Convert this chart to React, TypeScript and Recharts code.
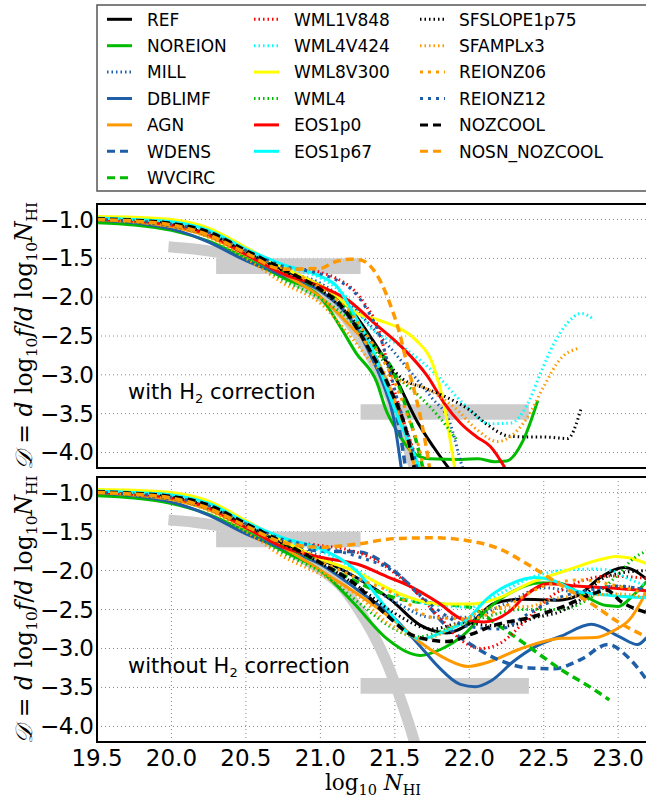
import React from "react";
import { LineChart, Line, XAxis, YAxis, CartesianGrid, ReferenceArea } from "recharts";

type Pt = [number, number];

const X_TICKS = [19.5, 20.0, 20.5, 21.0, 21.5, 22.0, 22.5, 23.0];
const Y_TICKS = [-4.0, -3.5, -3.0, -2.5, -2.0, -1.5, -1.0];
const EARLY_X = [19.5, 19.75, 20.0, 20.25, 20.5, 20.75];

// observational constraints (grey)
const OBS_CURVE: Pt[] = [[19.98, -1.35], [20.15, -1.38], [20.3, -1.42], [20.5, -1.5], [20.7, -1.64], [20.85, -1.8], [21.0, -1.98], [21.15, -2.22], [21.25, -2.48], [21.35, -2.8], [21.45, -3.2], [21.52, -3.55], [21.6, -4.0], [21.67, -4.45]];
const OBS_BOX_LOW = { x: [20.3, 21.27], y: [-1.7, -1.5] };
const OBS_BOX_HIGH = { x: [21.27, 22.4], y: [-3.58, -3.38] };

// low column density part, shared by both panels
const REF_EARLY = [-1.0, -1.02, -1.07, -1.19, -1.42, -1.65];
const NOREION_EARLY = [-1.04, -1.07, -1.14, -1.28, -1.5, -1.75];
const MILL_EARLY = [-1.0, -1.02, -1.07, -1.19, -1.42, -1.66];
const DBLIMF_EARLY = [-1.01, -1.04, -1.12, -1.29, -1.53, -1.72];
const AGN_EARLY = [-1.0, -1.03, -1.09, -1.22, -1.45, -1.7];
const WDENS_EARLY = [-1.0, -1.03, -1.08, -1.2, -1.42, -1.63];
const WVCIRC_EARLY = [-1.0, -1.02, -1.07, -1.2, -1.44, -1.68];
const WML1V848_EARLY = [-1.0, -1.02, -1.06, -1.17, -1.4, -1.6];
const WML4V424_EARLY = [-0.99, -1.01, -1.05, -1.16, -1.4, -1.62];
const WML8V300_EARLY = [-0.96, -0.97, -1.0, -1.11, -1.36, -1.62];
const WML4_EARLY = [-1.0, -1.03, -1.08, -1.22, -1.48, -1.78];
const EOS1P0_EARLY = [-1.0, -1.02, -1.07, -1.2, -1.45, -1.7];
const EOS1P67_EARLY = [-0.98, -1.0, -1.03, -1.14, -1.38, -1.58];
const SFSLOPE_EARLY = [-1.0, -1.02, -1.06, -1.18, -1.42, -1.66];
const SFAMPL_EARLY = [-1.0, -1.03, -1.09, -1.23, -1.5, -1.82];
const REIONZ06_EARLY = [-1.0, -1.02, -1.06, -1.18, -1.41, -1.63];
const REIONZ12_EARLY = [-1.0, -1.02, -1.06, -1.17, -1.4, -1.6];
const NOZCOOL_EARLY = [-0.99, -1.01, -1.05, -1.16, -1.4, -1.64];
const NOSN_EARLY = [-1.0, -1.02, -1.07, -1.2, -1.43, -1.64];

// with H2 correction
const REF_TOP: Pt[] = [[21.0, -1.85], [21.2, -2.15], [21.35, -2.55], [21.5, -3.02], [21.65, -3.6], [21.76, -3.93], [21.9, -4.3]];
const NOREION_TOP: Pt[] = [[21.0, -2.0], [21.13, -2.37], [21.24, -2.72], [21.38, -3.1], [21.44, -3.45], [21.51, -3.71], [21.62, -4.0], [21.73, -4.08], [21.95, -4.09], [22.06, -4.08], [22.17, -4.12], [22.25, -4.11], [22.36, -3.85], [22.46, -3.33]];
const MILL_TOP: Pt[] = [[21.0, -1.82], [21.2, -2.1], [21.4, -2.5], [21.6, -2.95], [21.75, -3.3], [21.87, -3.62], [21.94, -4.1], [21.97, -4.3]];
const DBLIMF_TOP: Pt[] = [[21.0, -1.92], [21.22, -2.33], [21.34, -2.76], [21.42, -3.11], [21.49, -3.54], [21.55, -4.3]];
const AGN_TOP: Pt[] = [[21.0, -2.0], [21.18, -2.33], [21.34, -2.68], [21.45, -3.1], [21.56, -3.7], [21.65, -4.3]];
const WDENS_TOP: Pt[] = [[21.0, -1.9], [21.2, -2.25], [21.35, -2.7], [21.45, -3.15], [21.52, -3.6], [21.58, -4.3]];
const WVCIRC_TOP: Pt[] = [[21.0, -1.9], [21.2, -2.2], [21.35, -2.6], [21.5, -3.0], [21.58, -3.45], [21.65, -3.9], [21.7, -4.3]];
const WML1V848_TOP: Pt[] = [[21.0, -1.68], [21.11, -1.76], [21.22, -1.9], [21.31, -2.12], [21.4, -2.46], [21.45, -2.85], [21.49, -3.15], [21.56, -3.6], [21.63, -4.0], [21.68, -4.3]];
const WML4V424_TOP: Pt[] = [[21.0, -1.75], [21.2, -2.05], [21.34, -2.4], [21.56, -2.65], [21.79, -3.02], [21.96, -3.37], [22.14, -3.63], [22.28, -3.62], [22.39, -3.38], [22.48, -2.97], [22.57, -2.59], [22.66, -2.33], [22.75, -2.21], [22.84, -2.29]];
const WML8V300_TOP: Pt[] = [[21.0, -1.85], [21.1, -1.97], [21.24, -2.2], [21.4, -2.3], [21.52, -2.39], [21.64, -2.55], [21.76, -2.89], [21.83, -3.38], [21.89, -4.06], [21.91, -4.3]];
const WML4_TOP: Pt[] = [[21.0, -2.02], [21.2, -2.3], [21.35, -2.65], [21.5, -3.0], [21.65, -3.25], [21.8, -3.55], [21.92, -3.85]];
const EOS1P0_TOP: Pt[] = [[21.0, -1.86], [21.18, -2.03], [21.36, -2.33], [21.54, -2.63], [21.72, -3.02], [21.83, -3.36], [21.94, -3.62], [22.05, -3.8], [22.14, -3.92], [22.27, -4.3]];
const EOS1P67_TOP: Pt[] = [[21.0, -1.73], [21.11, -1.86], [21.22, -2.2], [21.34, -2.63], [21.45, -3.19], [21.54, -3.64], [21.63, -4.02], [21.68, -4.3]];
const SFSLOPE_TOP: Pt[] = [[21.0, -1.9], [21.2, -2.25], [21.4, -2.72], [21.55, -3.05], [21.7, -3.17], [21.86, -3.3], [22.0, -3.45], [22.12, -3.64], [22.27, -3.79], [22.4, -3.8], [22.5, -3.8], [22.66, -3.82], [22.75, -3.44]];
const SFAMPL_TOP: Pt[] = [[21.0, -2.08], [21.2, -2.5], [21.35, -2.85], [21.5, -3.05], [21.7, -3.17], [21.9, -3.42], [22.06, -3.72], [22.19, -3.86], [22.28, -3.79], [22.39, -3.55], [22.5, -3.15], [22.61, -2.8], [22.73, -2.66]];
const REIONZ06_TOP: Pt[] = [[21.0, -1.88], [21.2, -2.2], [21.35, -2.6], [21.5, -3.1], [21.6, -3.6], [21.67, -4.0], [21.7, -4.3]];
const REIONZ12_TOP: Pt[] = [[21.0, -1.7], [21.11, -1.78], [21.22, -1.92], [21.31, -2.15], [21.4, -2.5], [21.46, -2.9], [21.5, -3.2], [21.56, -3.6], [21.62, -3.98], [21.66, -4.3]];
const NOZCOOL_TOP: Pt[] = [[21.0, -1.9], [21.13, -2.09], [21.33, -2.68], [21.47, -3.19], [21.58, -3.75], [21.64, -4.3]];
const NOSN_TOP: Pt[] = [[21.0, -1.63], [21.09, -1.55], [21.2, -1.51], [21.27, -1.52], [21.34, -1.61], [21.41, -1.82], [21.47, -2.1], [21.53, -2.45], [21.58, -2.85], [21.63, -3.2], [21.68, -3.62], [21.72, -4.04], [21.74, -4.3]];

// without H2 correction
const REF_BOTTOM: Pt[] = [[21.0, -1.85], [21.25, -2.1], [21.47, -2.37], [21.67, -2.7], [21.85, -2.8], [22.01, -2.67], [22.17, -2.42], [22.35, -2.37], [22.6, -2.38], [22.73, -2.32], [22.88, -2.09], [23.04, -1.96], [23.19, -2.11]];
const NOREION_BOTTOM: Pt[] = [[21.0, -2.0], [21.22, -2.41], [21.45, -2.88], [21.6, -3.06], [21.67, -3.09], [21.81, -3.01], [21.96, -2.83], [22.12, -2.5], [22.3, -2.26], [22.46, -2.16], [22.6, -2.16], [22.75, -2.3], [22.92, -2.45], [23.0, -2.46], [23.1, -2.32], [23.19, -2.14]];
const MILL_BOTTOM: Pt[] = [[21.0, -1.82], [21.25, -2.1], [21.5, -2.4], [21.75, -2.6], [22.0, -2.6], [22.25, -2.42], [22.5, -2.22], [22.75, -2.28], [23.0, -2.2], [23.19, -2.25]];
const DBLIMF_BOTTOM: Pt[] = [[21.0, -1.92], [21.25, -2.25], [21.5, -2.62], [21.67, -2.97], [21.79, -3.23], [21.94, -3.46], [22.04, -3.49], [22.15, -3.41], [22.3, -3.16], [22.45, -2.97], [22.62, -2.84], [22.82, -2.69], [23.01, -2.85], [23.13, -2.95], [23.19, -2.86]];
const AGN_BOTTOM: Pt[] = [[21.0, -2.0], [21.25, -2.3], [21.5, -2.65], [21.67, -2.92], [21.85, -3.14], [21.99, -3.23], [22.12, -3.18], [22.35, -3.0], [22.62, -2.87], [22.85, -2.86], [22.97, -2.77], [23.08, -2.62], [23.19, -2.27]];
const WDENS_BOTTOM: Pt[] = [[21.0, -1.75], [21.25, -1.76], [21.48, -1.98], [21.67, -2.33], [21.85, -2.72], [22.01, -2.95], [22.19, -3.14], [22.4, -3.25], [22.57, -3.26], [22.75, -3.14], [22.93, -2.95], [23.07, -3.12], [23.19, -3.4]];
const WVCIRC_BOTTOM: Pt[] = [[21.0, -1.9], [21.25, -2.15], [21.5, -2.35], [21.8, -2.43], [22.0, -2.47], [22.17, -2.67], [22.38, -2.95], [22.6, -3.25], [22.84, -3.53], [22.94, -3.66]];
const WML1V848_BOTTOM: Pt[] = [[21.0, -1.68], [21.18, -1.73], [21.4, -1.9], [21.6, -2.2], [21.81, -2.62], [21.95, -2.9], [22.08, -3.0], [22.21, -2.93], [22.37, -2.66], [22.55, -2.33], [22.72, -2.16], [22.93, -2.07], [23.19, -2.1]];
const WML4V424_BOTTOM: Pt[] = [[21.0, -1.75], [21.25, -2.0], [21.5, -2.3], [21.8, -2.45], [22.0, -2.47], [22.2, -2.3], [22.39, -2.11], [22.62, -2.0], [22.84, -1.98], [22.95, -2.0], [23.06, -2.1], [23.19, -2.19]];
const WML8V300_BOTTOM: Pt[] = [[21.0, -1.85], [21.22, -2.0], [21.56, -2.32], [21.79, -2.43], [22.01, -2.43], [22.2, -2.35], [22.42, -2.15], [22.65, -2.0], [22.9, -1.85], [22.98, -1.82], [23.08, -1.84], [23.19, -1.91]];
const WML4_BOTTOM: Pt[] = [[21.0, -2.02], [21.25, -2.4], [21.47, -2.72], [21.65, -2.85], [21.85, -2.75], [22.1, -2.6], [22.35, -2.5], [22.6, -2.5], [22.85, -2.3], [23.0, -2.05], [23.1, -1.85], [23.19, -1.75]];
const EOS1P0_BOTTOM: Pt[] = [[21.0, -1.83], [21.25, -1.92], [21.45, -2.08], [21.6, -2.2], [21.79, -2.41], [21.96, -2.63], [22.1, -2.66], [22.26, -2.54], [22.39, -2.3], [22.53, -2.17], [22.72, -2.2], [22.93, -2.22], [23.19, -2.26]];
const EOS1P67_BOTTOM: Pt[] = [[21.0, -1.72], [21.25, -2.02], [21.45, -2.5], [21.58, -2.79], [21.67, -2.88], [21.81, -2.8], [21.99, -2.62], [22.12, -2.36], [22.28, -2.17], [22.44, -2.09], [22.55, -2.12], [22.73, -2.27], [22.95, -2.32], [23.19, -2.35]];
const SFSLOPE_BOTTOM: Pt[] = [[21.0, -1.9], [21.25, -2.2], [21.5, -2.55], [21.75, -2.75], [21.96, -2.67], [22.1, -2.7], [22.25, -2.71], [22.45, -2.6], [22.62, -2.52], [22.73, -2.4], [22.89, -2.11], [23.02, -2.03], [23.19, -2.0]];
const SFAMPL_BOTTOM: Pt[] = [[21.0, -2.05], [21.25, -2.32], [21.47, -2.7], [21.7, -2.88], [21.95, -2.65], [22.15, -2.48], [22.4, -2.46], [22.6, -2.35], [22.8, -2.32], [23.0, -2.3], [23.19, -2.35]];
const REIONZ06_BOTTOM: Pt[] = [[21.0, -1.88], [21.25, -2.1], [21.5, -2.3], [21.75, -2.6], [22.0, -2.62], [22.25, -2.45], [22.5, -2.2], [22.75, -2.12], [23.0, -2.2], [23.19, -2.3]];
const REIONZ12_BOTTOM: Pt[] = [[21.0, -1.7], [21.25, -1.82], [21.5, -2.02], [21.75, -2.45], [22.0, -2.72], [22.2, -2.75], [22.4, -2.55], [22.6, -2.35], [22.8, -2.25], [23.0, -2.2], [23.19, -2.25]];
const NOZCOOL_BOTTOM: Pt[] = [[21.0, -1.9], [21.25, -2.2], [21.45, -2.58], [21.63, -2.84], [21.85, -2.91], [22.01, -2.82], [22.17, -2.7], [22.39, -2.61], [22.62, -2.47], [22.84, -2.29], [22.92, -2.25], [23.02, -2.4], [23.19, -2.54]];
const NOSN_BOTTOM: Pt[] = [[21.0, -1.7], [21.25, -1.66], [21.5, -1.59], [21.75, -1.58], [22.0, -1.62], [22.2, -1.72], [22.4, -1.93], [22.6, -2.17], [22.84, -2.45], [23.0, -2.66], [23.19, -2.85]];

const BLACK = "#000000";
const GREEN = "#00bb00";
const BLUE = "#1f5fa8";
const ORANGE = "#ff9900";
const RED = "#ff0000";
const CYAN = "#00ffff";
const YELLOW = "#ffff00";
const GREY = "#cccccc";

const SOLID = undefined;
const DOT = "1.5 3";
const DASH = "8 5";
const DASHDOT = "3 5";

const SERIES = [
  { name: "REF", color: BLACK, dash: SOLID, early: REF_EARLY, top: REF_TOP, bottom: REF_BOTTOM },
  { name: "NOREION", color: GREEN, dash: SOLID, early: NOREION_EARLY, top: NOREION_TOP, bottom: NOREION_BOTTOM },
  { name: "MILL", color: BLUE, dash: DOT, early: MILL_EARLY, top: MILL_TOP, bottom: MILL_BOTTOM },
  { name: "DBLIMF", color: BLUE, dash: SOLID, early: DBLIMF_EARLY, top: DBLIMF_TOP, bottom: DBLIMF_BOTTOM },
  { name: "AGN", color: ORANGE, dash: SOLID, early: AGN_EARLY, top: AGN_TOP, bottom: AGN_BOTTOM },
  { name: "WDENS", color: BLUE, dash: DASH, early: WDENS_EARLY, top: WDENS_TOP, bottom: WDENS_BOTTOM },
  { name: "WVCIRC", color: GREEN, dash: DASH, early: WVCIRC_EARLY, top: WVCIRC_TOP, bottom: WVCIRC_BOTTOM },
  { name: "WML1V848", color: RED, dash: DOT, early: WML1V848_EARLY, top: WML1V848_TOP, bottom: WML1V848_BOTTOM },
  { name: "WML4V424", color: CYAN, dash: DOT, early: WML4V424_EARLY, top: WML4V424_TOP, bottom: WML4V424_BOTTOM },
  { name: "WML8V300", color: YELLOW, dash: SOLID, early: WML8V300_EARLY, top: WML8V300_TOP, bottom: WML8V300_BOTTOM },
  { name: "WML4", color: GREEN, dash: DOT, early: WML4_EARLY, top: WML4_TOP, bottom: WML4_BOTTOM },
  { name: "EOS1p0", color: RED, dash: SOLID, early: EOS1P0_EARLY, top: EOS1P0_TOP, bottom: EOS1P0_BOTTOM },
  { name: "EOS1p67", color: CYAN, dash: SOLID, early: EOS1P67_EARLY, top: EOS1P67_TOP, bottom: EOS1P67_BOTTOM },
  { name: "SFSLOPE1p75", color: BLACK, dash: DOT, early: SFSLOPE_EARLY, top: SFSLOPE_TOP, bottom: SFSLOPE_BOTTOM },
  { name: "SFAMPLx3", color: ORANGE, dash: DOT, early: SFAMPL_EARLY, top: SFAMPL_TOP, bottom: SFAMPL_BOTTOM },
  { name: "REIONZ06", color: ORANGE, dash: DASHDOT, early: REIONZ06_EARLY, top: REIONZ06_TOP, bottom: REIONZ06_BOTTOM },
  { name: "REIONZ12", color: BLUE, dash: DASHDOT, early: REIONZ12_EARLY, top: REIONZ12_TOP, bottom: REIONZ12_BOTTOM },
  { name: "NOZCOOL", color: BLACK, dash: DASH, early: NOZCOOL_EARLY, top: NOZCOOL_TOP, bottom: NOZCOOL_BOTTOM },
  { name: "NOSN_NOZCOOL", color: ORANGE, dash: DASH, early: NOSN_EARLY, top: NOSN_TOP, bottom: NOSN_BOTTOM },
];

const LEGEND_COLS = [0, 7, 13, 19];

const PLOT_LEFT = 97;
const PLOT_W = 551;
const TOP_Y = 204;
const TOP_H = 264;
const BOT_Y = 477;
const BOT_H = 265;
const FONT = "DejaVu Sans";
const MATH = "DejaVu Serif";
const TICK_FONT = 23;

function toPoints(early: number[], tail: Pt[]) {
  const pts = EARLY_X.map((x, i) => ({ x, y: early[i] }));
  return pts.concat(tail.map(([x, y]) => ({ x, y })));
}

const fmtY = (v: number) => (v < 0 ? "\u2212" : "") + Math.abs(v).toFixed(1);

function YTick(props: any) {
  const { x, y, payload } = props;
  return (
    <text x={x} y={y} dy={8} textAnchor="end" fontSize={TICK_FONT} fontFamily={FONT} fill="#000" textLength={54} lengthAdjust="spacing">
      {fmtY(payload.value)}
    </text>
  );
}

function XTick(props: any) {
  const { x, y, payload } = props;
  return (
    <text x={x} y={y} dy={16} textAnchor="middle" fontSize={TICK_FONT} fontFamily={FONT} fill="#000">
      {payload.value.toFixed(1)}
    </text>
  );
}

function Panel({ which, height, showX }: { which: "top" | "bottom"; height: number; showX: boolean }) {
  const xh = showX ? 40 : 0;
  return (
    <LineChart width={PLOT_LEFT + PLOT_W} height={height + xh} margin={{ top: 0, right: 0, bottom: 0, left: 0 }}>
      <CartesianGrid
        stroke="#888"
        strokeDasharray="1 3"
        horizontalValues={Y_TICKS}
        verticalValues={X_TICKS.slice(1)}
      />
      <XAxis
        dataKey="x"
        type="number"
        domain={[19.5, 23.2]}
        allowDataOverflow
        ticks={X_TICKS}
        interval={0}
        height={xh}
        axisLine={false}
        tickLine={false}
        tickSize={6}
        tickMargin={2}
        tick={showX ? <XTick /> : false}
      />
      <YAxis
        type="number"
        domain={[-4.2, -0.8]}
        allowDataOverflow
        ticks={Y_TICKS}
        interval={0}
        width={PLOT_LEFT}
        axisLine={false}
        tickLine={false}
        tickSize={3}
        tickMargin={0}
        tick={<YTick />}
      />
      <ReferenceArea x1={OBS_BOX_LOW.x[0]} x2={OBS_BOX_LOW.x[1]} y1={OBS_BOX_LOW.y[0]} y2={OBS_BOX_LOW.y[1]} fill={GREY} fillOpacity={1} stroke="none" />
      <ReferenceArea x1={OBS_BOX_HIGH.x[0]} x2={OBS_BOX_HIGH.x[1]} y1={OBS_BOX_HIGH.y[0]} y2={OBS_BOX_HIGH.y[1]} fill={GREY} fillOpacity={1} stroke="none" />
      <Line
        data={OBS_CURVE.map(([x, y]) => ({ x, y }))}
        dataKey="y"
        type="monotone"
        stroke={GREY}
        strokeWidth={11}
        dot={false}
        isAnimationActive={false}
      />
      {SERIES.map((s) => (
        <Line
          key={s.name}
          data={toPoints(s.early, which === "top" ? s.top : s.bottom)}
          dataKey="y"
          type="monotone"
          stroke={s.color}
          strokeWidth={s.dash === DASH ? 3.5 : 3}
          strokeDasharray={s.dash}
          dot={false}
          isAnimationActive={false}
        />
      ))}
    </LineChart>
  );
}

function YLabel({ cy }: { cy: number }) {
  return (
    <text
      transform={`translate(32, ${cy}) rotate(-90)`}
      textAnchor="middle"
      fontFamily={MATH}
      fontSize={23.5}
      fill="#000"
    >
      <tspan fontStyle="italic">𝒟</tspan>
      <tspan>{" = "}</tspan>
      <tspan fontStyle="italic">d</tspan>
      <tspan>{" log"}</tspan>
      <tspan fontSize={15.5} dy={5}>10</tspan>
      <tspan dy={-5} fontStyle="italic">{"f"}</tspan>
      <tspan>{"/"}</tspan>
      <tspan fontStyle="italic">d</tspan>
      <tspan>{" log"}</tspan>
      <tspan fontSize={15.5} dy={5}>10</tspan>
      <tspan dy={-5} fontStyle="italic">N</tspan>
      <tspan fontSize={15.5} dy={5}>HI</tspan>
    </text>
  );
}

function Overlay() {
  return (
    <svg width={646} height={799} style={{ position: "absolute", left: 0, top: 0, pointerEvents: "none" }}>
      {/* legend */}
      <rect x={97} y={5} width={600} height={186} fill="#fff" stroke="#555" strokeWidth={1.5} />
      {SERIES.map((s, i) => {
        const col = i < LEGEND_COLS[1] ? 0 : i < LEGEND_COLS[2] ? 1 : 2;
        const row = i - LEGEND_COLS[col];
        const lx = [107, 254, 420][col];
        const tx = [147, 294, 459][col];
        const cy = 19.3 + row * 26.4;
        return (
          <g key={s.name}>
            <line x1={lx} x2={lx + 25} y1={cy} y2={cy} stroke={s.color} strokeWidth={3} strokeDasharray={s.dash} />
            <text x={tx} y={cy + 6.2} fontFamily={FONT} fontSize={17} fill="#000">
              {s.name}
            </text>
          </g>
        );
      })}
      {/* panel frames */}
      <rect x={PLOT_LEFT} y={TOP_Y} width={PLOT_W} height={TOP_H} fill="none" stroke="#000" strokeWidth={2} />
      <rect x={PLOT_LEFT} y={BOT_Y} width={PLOT_W} height={BOT_H} fill="none" stroke="#000" strokeWidth={2} />
      {/* annotations */}
      <text x={128} y={399} fontFamily={FONT} fontSize={21} fill="#000">
        <tspan>with H</tspan>
        <tspan fontSize={13} dy={4}>2</tspan>
        <tspan dy={-4}>{"  correction"}</tspan>
      </text>
      <text x={128} y={673} fontFamily={FONT} fontSize={21} fill="#000">
        <tspan>without H</tspan>
        <tspan fontSize={13} dy={4}>2</tspan>
        <tspan dy={-4}>{"  correction"}</tspan>
      </text>
      <YLabel cy={TOP_Y + TOP_H / 2} />
      <YLabel cy={BOT_Y + BOT_H / 2} />
      <text x={373} y={790} textAnchor="middle" fontFamily={MATH} fontSize={21.5} fill="#000">
        <tspan>log</tspan>
        <tspan fontSize={14.5} dy={5}>10</tspan>
        <tspan dy={-5} fontStyle="italic">{" N"}</tspan>
        <tspan fontSize={14.5} dy={5}>HI</tspan>
      </text>
    </svg>
  );
}

export default function App() {
  return (
    <div style={{ position: "absolute", left: 0, top: 0, width: 646, height: 799, background: "#fff", overflow: "hidden" }}>
      <div style={{ position: "absolute", left: 0, top: TOP_Y }}>
        <Panel which="top" height={TOP_H} showX={false} />
      </div>
      <div style={{ position: "absolute", left: 0, top: BOT_Y }}>
        <Panel which="bottom" height={BOT_H} showX={true} />
      </div>
      <Overlay />
    </div>
  );
}
